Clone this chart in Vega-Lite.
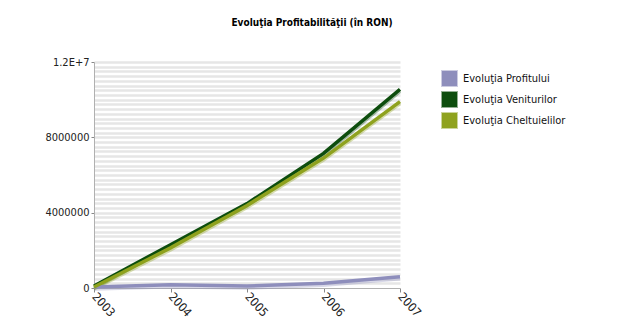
{
  "$schema": "https://vega.github.io/schema/vega-lite/v6.json",
  "width": 306,
  "height": 226,
  "autosize": {"type": "none"},
  "padding": {"left": 94, "top": 62, "right": 224, "bottom": 46},
  "background": "white",
  "title": {
    "text": "Evoluţia Profitabilităţii (în RON)",
    "font": "DejaVu Sans Condensed",
    "fontSize": 10,
    "fontWeight": "bold",
    "color": "#000000",
    "anchor": "middle",
    "frame": "group",
    "dx": 65,
    "offset": 28
  },
  "config": {
    "view": {"stroke": null},
    "axis": {"labelFont": "DejaVu Sans Condensed", "labelFontSize": 11, "labelColor": "#222222", "domainColor": "#b0b0b0", "tickColor": "#888888", "tickSize": 3},
    "legend": {"labelFont": "DejaVu Sans Condensed", "labelFontSize": 11, "labelColor": "#111111"}
  },
  "data": {
    "values": [
      {"year": 2003, "series": "Evoluţia Profitului", "value": 50000},
      {"year": 2004, "series": "Evoluţia Profitului", "value": 170000},
      {"year": 2005, "series": "Evoluţia Profitului", "value": 100000},
      {"year": 2006, "series": "Evoluţia Profitului", "value": 250000},
      {"year": 2007, "series": "Evoluţia Profitului", "value": 600000},
      {"year": 2003, "series": "Evoluţia Veniturilor", "value": 100000},
      {"year": 2004, "series": "Evoluţia Veniturilor", "value": 2300000},
      {"year": 2005, "series": "Evoluţia Veniturilor", "value": 4480000},
      {"year": 2006, "series": "Evoluţia Veniturilor", "value": 7150000},
      {"year": 2007, "series": "Evoluţia Veniturilor", "value": 10550000},
      {"year": 2003, "series": "Evoluţia Cheltuielilor", "value": 50000},
      {"year": 2004, "series": "Evoluţia Cheltuielilor", "value": 2130000},
      {"year": 2005, "series": "Evoluţia Cheltuielilor", "value": 4380000},
      {"year": 2006, "series": "Evoluţia Cheltuielilor", "value": 6900000},
      {"year": 2007, "series": "Evoluţia Cheltuielilor", "value": 9900000}
    ]
  },
  "encoding": {
    "x": {
      "field": "year", "type": "quantitative",
      "scale": {"domain": [2003, 2007], "nice": false, "zero": false},
      "axis": {"title": null, "values": [2003, 2004, 2005, 2006, 2007], "format": "d", "labelAngle": 48, "labelAlign": "left", "labelBaseline": "middle", "labelPadding": 2, "labelFontSize": 12, "grid": false, "labelOverlap": false, "labelFlush": false, "tickSize": 4}
    },
    "y": {
      "field": "value", "type": "quantitative",
      "scale": {"domain": [0, 12000000], "nice": false},
      "axis": {
        "title": null,
        "values": [0, 250000, 500000, 750000, 1000000, 1250000, 1500000, 1750000, 2000000, 2250000, 2500000, 2750000, 3000000, 3250000, 3500000, 3750000, 4000000, 4250000, 4500000, 4750000, 5000000, 5250000, 5500000, 5750000, 6000000, 6250000, 6500000, 6750000, 7000000, 7250000, 7500000, 7750000, 8000000, 8250000, 8500000, 8750000, 9000000, 9250000, 9500000, 9750000, 10000000, 10250000, 10500000, 10750000, 11000000, 11250000, 11500000, 11750000, 12000000],
        "labelExpr": "datum.value % 4000000 != 0 ? '' : (datum.value == 12000000 ? '1.2E+7' : format(datum.value, 'd'))",
        "labelOverlap": false,
        "tickOpacity": {"condition": {"test": "datum.value % 4000000 == 0", "value": 1}, "value": 0},
        "grid": true,
        "gridColor": "#e6e6e6",
        "gridWidth": 2.5,
        "gridOpacity": {"condition": {"test": "datum.value == 0", "value": 0}, "value": 1}
      }
    },
    "color": {
      "field": "series", "type": "nominal",
      "sort": ["Evoluţia Profitului", "Evoluţia Veniturilor", "Evoluţia Cheltuielilor"],
      "scale": {"domain": ["Evoluţia Profitului", "Evoluţia Veniturilor", "Evoluţia Cheltuielilor"], "range": ["#8e8ebc", "#0d4d0d", "#8fa21e"]},
      "legend": {
        "title": null, "orient": "none", "legendX": 347, "legendY": 8,
        "symbolType": "square", "symbolSize": 225, "symbolStrokeWidth": 2, "symbolOpacity": 1,
        "rowPadding": -2, "labelOffset": 5,
        "encode": {"symbols": {"update": {"fill": {"scale": "color", "field": "value"}, "fillOpacity": {"value": 1}, "stroke": {"scale": "color", "field": "value"}, "strokeOpacity": {"value": 0.45}}}}
      }
    }
  },
  "layer": [
    {
      "mark": {"type": "line", "strokeWidth": 3.5, "yOffset": 2, "opacity": 0.35}
    },
    {
      "mark": {"type": "line", "strokeWidth": 3.5}
    }
  ]
}
